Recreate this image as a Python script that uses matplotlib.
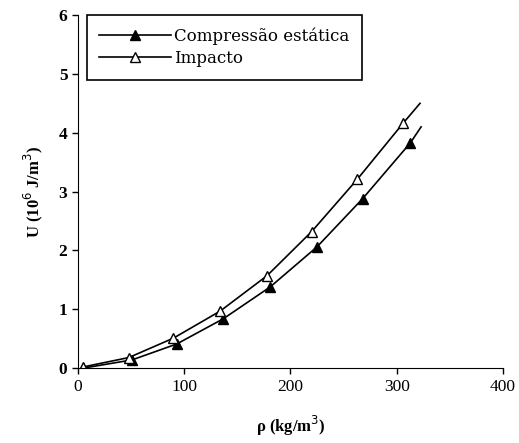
import matplotlib
matplotlib.use("Agg")
import matplotlib.pyplot as plt

# density (kg/m3) and energy (10^6 J/m3); last point is the curve end (no marker)
rho_comp = [5, 51, 93, 137, 181, 225, 268, 313, 323]
u_comp = [0.0, 0.14, 0.41, 0.84, 1.38, 2.06, 2.88, 3.83, 4.10]
rho_imp = [5, 48, 90, 134, 178, 220, 263, 306, 322]
u_imp = [0.02, 0.18, 0.51, 0.97, 1.57, 2.32, 3.21, 4.16, 4.50]

plt.rcParams['font.family'] = ['Liberation Serif', 'DejaVu Serif']

fig = plt.figure(figsize=(5.19, 4.43), dpi=100)
ax = fig.add_axes([0.150, 0.169, 0.819, 0.797])

ax.plot(rho_comp, u_comp, color='black', lw=1.2, marker='^', ms=7,
        mfc='black', mec='black', markevery=list(range(len(rho_comp) - 1)),
        label='Compressão estática')
ax.plot(rho_imp, u_imp, color='black', lw=1.2, marker='^', ms=7,
        mfc='white', mec='black', markevery=list(range(len(rho_imp) - 1)),
        label='Impacto')

ax.set_xlim(0, 400)
ax.set_ylim(0, 6)
ax.set_xticks([0, 100, 200, 300, 400])
ax.set_yticks([0, 1, 2, 3, 4, 5, 6])
ax.spines['top'].set_visible(False)
ax.spines['right'].set_visible(False)
ax.tick_params(direction='out', length=4, width=1, labelsize=12.5)
for lab in ax.get_yticklabels():
    lab.set_fontweight('bold')

ax.set_xlabel(r'ρ (kg/m$^{3}$)', fontsize=12, fontweight='bold', labelpad=14)
ax.set_ylabel(r'U (10$^{6}$ J/m$^{3}$)', fontsize=12, fontweight='bold', labelpad=10)

leg = ax.legend(loc='upper left', bbox_to_anchor=(0.021, 1.0), borderaxespad=0,
                fancybox=False, edgecolor='black', framealpha=1,
                prop={'family': 'DejaVu Serif', 'size': 12},
                handlelength=4.3, handletextpad=0.2,
                borderpad=0.75, labelspacing=0.3)
leg.get_frame().set_linewidth(1.2)

fig.savefig('out.png', dpi=100)
